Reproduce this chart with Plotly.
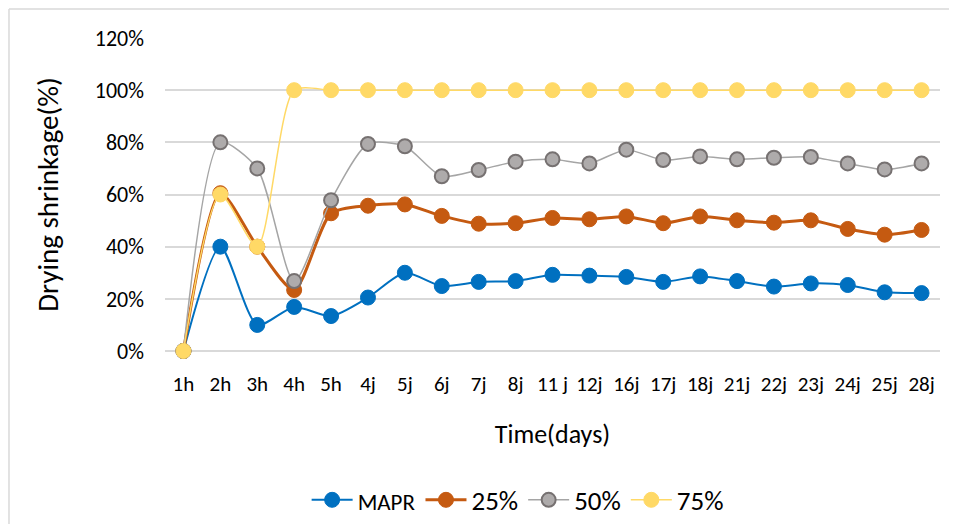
import plotly.graph_objects as go

# time steps (h = hours, j = jours)
times = ["1h", "2h", "3h", "4h", "5h", "4j", "5j", "6j", "7j", "8j", "11 j",
         "12j", "16j", "17j", "18j", "21j", "22j", "23j", "24j", "25j", "28j"]

# drying shrinkage in %
mapr = [0, 40, 10, 16.9, 13.4, 20.5, 30, 24.9, 26.5, 26.8, 29.2,
        28.9, 28.4, 26.5, 28.6, 26.8, 24.7, 25.9, 25.3, 22.5, 22.2]
s25 = [0, 60.5, 40, 23.4, 52.8, 55.7, 56.2, 51.8, 48.8, 49.0, 51.0,
       50.5, 51.6, 49.0, 51.6, 50.1, 49.2, 50.1, 46.8, 44.6, 46.4]
s50 = [0, 80, 70, 26.8, 57.8, 79.4, 78.5, 67.0, 69.4, 72.6, 73.5,
       71.9, 77.2, 73.2, 74.6, 73.5, 74.1, 74.4, 71.9, 69.6, 71.9]
s75 = [0, 60, 40, 100, 100, 100, 100, 100, 100, 100, 100,
       100, 100, 100, 100, 100, 100, 100, 100, 100, 100]

y_ticks = [0, 20, 40, 60, 80, 100, 120]
y_labels = ["0%", "20%", "40%", "60%", "80%", "100%", "120%"]

fig = go.Figure()

fig.add_trace(go.Scatter(x=times, y=mapr, mode='lines+markers',
                         name="<span style='font-size:23px'>MAPR</span>",
                         line=dict(color='#0070C0', width=2, shape='spline', smoothing=0.7),
                         marker=dict(color='#0070C0', size=15, line=dict(color='#0070C0', width=1)),
                         cliponaxis=False))
fig.add_trace(go.Scatter(x=times, y=s25, mode='lines+markers', name='25%',
                         line=dict(color='#C55A11', width=3, shape='spline', smoothing=0.7),
                         marker=dict(color='#C55A11', size=15, line=dict(color='#C55A11', width=1)),
                         cliponaxis=False))
fig.add_trace(go.Scatter(x=times, y=s50, mode='lines+markers', name='50%',
                         line=dict(color='#A5A5A5', width=1.5, shape='spline', smoothing=0.7),
                         marker=dict(color='#AEABAB', size=14, line=dict(color='#767171', width=2)),
                         cliponaxis=False))
fig.add_trace(go.Scatter(x=times, y=s75, mode='lines+markers', name='75%',
                         line=dict(color='#FFD966', width=1.5, shape='spline', smoothing=0.7),
                         marker=dict(color='#FFD966', size=15, line=dict(color='#FFD966', width=1)),
                         cliponaxis=False))

# page body keeps an 8px margin, so the figure is 8px smaller than the window
fig.update_layout(
    width=949, height=516,
    margin=dict(l=157, r=17, t=30, b=173),
    paper_bgcolor='white', plot_bgcolor='white',
    font=dict(family='Carlito, Lato, Noto Sans', color='#000000', size=21),
    xaxis=dict(
        type='category', range=[-0.5, 20.5],
        showgrid=False, showline=False, ticks='',
        tickfont=dict(size=21), ticklabelstandoff=18,
        title=dict(text='Time(days)', font=dict(size=26), standoff=28),
        automargin=False,
    ),
    yaxis=dict(
        range=[0, 120], tickvals=y_ticks, ticktext=y_labels,
        showgrid=True, gridcolor='#D9D9D9', gridwidth=1.5,
        zeroline=True, zerolinecolor='#D9D9D9', zerolinewidth=1.5,
        showline=False, ticks='', tickfont=dict(size=22), ticklabelstandoff=20,
        title=dict(text='Drying shrinkage(%)', font=dict(size=29), standoff=27),
        automargin=False,
    ),
    legend=dict(orientation='h', x=0.455, xanchor='center',
                yref='container', y=0.046, yanchor='middle',
                font=dict(size=27), itemwidth=41, tracegroupgap=0,
                bgcolor='rgba(0,0,0,0)'),
    showlegend=True,
)

# chart area border (starts at top-left, runs off the picture)
fig.add_shape(type='line', xref='paper', yref='paper', x0=-0.2013, y0=1.0927, x1=1.03, y1=1.0927,
              line=dict(color='#D9D9D9', width=1.5))
fig.add_shape(type='line', xref='paper', yref='paper', x0=-0.2013, y0=1.0927, x1=-0.2013, y1=-0.6,
              line=dict(color='#D9D9D9', width=1.5))

fig.write_html("out.html")
